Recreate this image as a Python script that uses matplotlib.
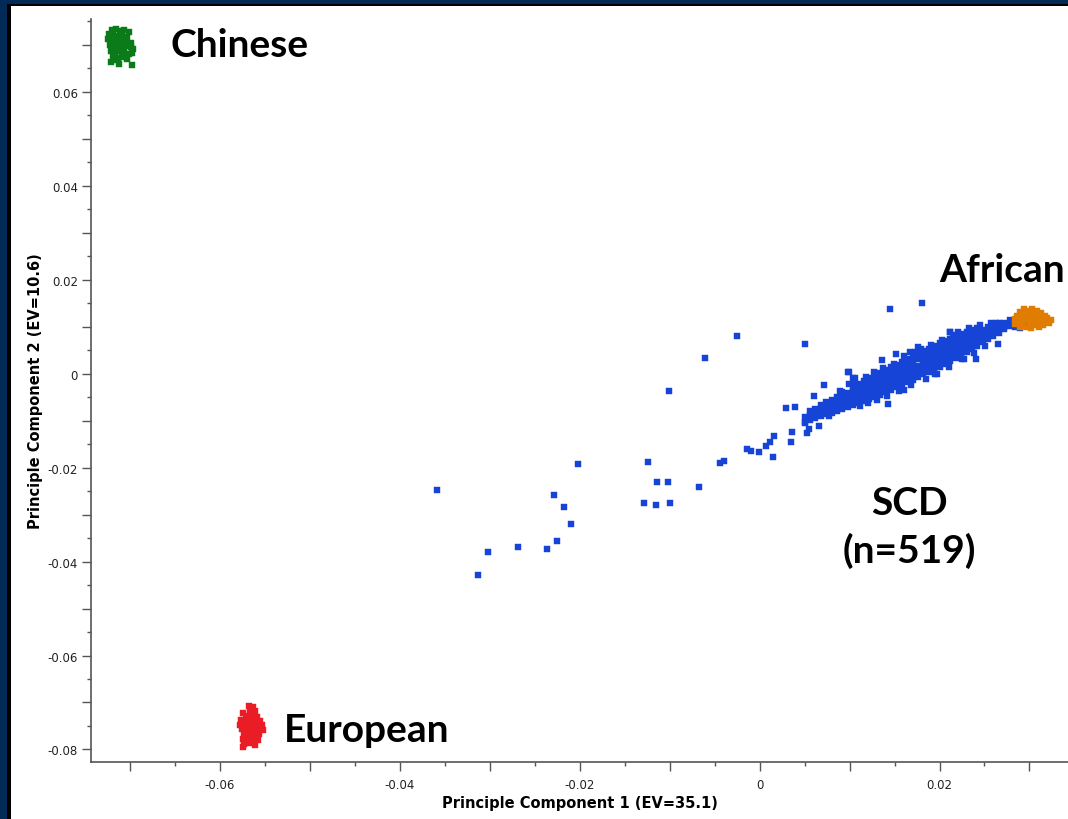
import matplotlib
matplotlib.use("Agg")
import matplotlib.pyplot as plt
from matplotlib.patches import Rectangle
from matplotlib.ticker import MultipleLocator, FuncFormatter

# ---------------- data ----------------
# SCD cohort: dense band, hand-read as columns of (PC1, [PC2 values])
scd_band_columns = [
    (0.0050, [-0.0104, -0.0093]),
    (0.0056, [-0.0098, -0.0088, -0.0080]),
    (0.0062, [-0.0094, -0.0085, -0.0076]),
    (0.0068, [-0.0090, -0.0082, -0.0073, -0.0066]),
    (0.0074, [-0.0086, -0.0077, -0.0069, -0.0061]),
    (0.0080, [-0.0083, -0.0073, -0.0064, -0.0056]),
    (0.0086, [-0.0079, -0.0069, -0.0060, -0.0051]),
    (0.0092, [-0.0075, -0.0064, -0.0055, -0.0046, -0.0040]),
    (0.0098, [-0.0071, -0.0060, -0.0051, -0.0042]),
    (0.0104, [-0.0068, -0.0056, -0.0046, -0.0037, -0.0028]),
    (0.0110, [-0.0063, -0.0052, -0.0042, -0.0031, -0.0022]),
    (0.0116, [-0.0058, -0.0047, -0.0036, -0.0026, -0.0016]),
    (0.0122, [-0.0054, -0.0042, -0.0031, -0.0020, -0.0010]),
    (0.0128, [-0.0050, -0.0038, -0.0026, -0.0015, -0.0004]),
    (0.0134, [-0.0045, -0.0033, -0.0021, -0.0010, 0.0002]),
    (0.0140, [-0.0040, -0.0028, -0.0015, -0.0004, 0.0008]),
    (0.0146, [-0.0035, -0.0022, -0.0010, 0.0002, 0.0014]),
    (0.0152, [-0.0029, -0.0016, -0.0004, 0.0008, 0.0019]),
    (0.0158, [-0.0024, -0.0011, 0.0001, 0.0013, 0.0025]),
    (0.0164, [-0.0019, -0.0006, 0.0006, 0.0018, 0.0031]),
    (0.0170, [-0.0013, 0.0000, 0.0012, 0.0024, 0.0036]),
    (0.0176, [-0.0008, 0.0005, 0.0017, 0.0030, 0.0042]),
    (0.0182, [-0.0002, 0.0011, 0.0023, 0.0035, 0.0048]),
    (0.0188, [0.0003, 0.0016, 0.0028, 0.0041, 0.0053]),
    (0.0194, [0.0009, 0.0021, 0.0034, 0.0046, 0.0058]),
    (0.0200, [0.0014, 0.0027, 0.0040, 0.0052, 0.0064]),
    (0.0206, [0.0020, 0.0032, 0.0045, 0.0057, 0.0069]),
    (0.0212, [0.0026, 0.0038, 0.0050, 0.0062, 0.0074]),
    (0.0218, [0.0032, 0.0044, 0.0056, 0.0068, 0.0080]),
    (0.0224, [0.0038, 0.0050, 0.0061, 0.0073, 0.0084]),
    (0.0230, [0.0045, 0.0056, 0.0067, 0.0078, 0.0089]),
    (0.0236, [0.0052, 0.0062, 0.0072, 0.0083, 0.0093]),
    (0.0242, [0.0059, 0.0069, 0.0078, 0.0088, 0.0097]),
    (0.0248, [0.0066, 0.0076, 0.0084, 0.0093]),
    (0.0254, [0.0073, 0.0082, 0.0090, 0.0099]),
    (0.0260, [0.0080, 0.0088, 0.0096, 0.0104]),
    (0.0266, [0.0087, 0.0094, 0.0101, 0.0108]),
    (0.0272, [0.0094, 0.0100, 0.0107]),
    (0.0278, [0.0101, 0.0107, 0.0113]),
    (0.0284, [0.0100, 0.0106, 0.0112]),
    (0.0290, [0.0098, 0.0106]),
]

# SCD cohort: ragged edge points of the band
scd_edge_pc1 = [0.0105, 0.0118, 0.0127, 0.0149, 0.0161, 0.0173, 0.0190, 0.0203,
                0.0221, 0.0233, 0.0245, 0.0257, 0.0112, 0.0131, 0.0142, 0.0155,
                0.0168, 0.0185, 0.0197, 0.0210, 0.0227, 0.0238, 0.0251, 0.0089,
                0.0077, 0.0137, 0.0179, 0.0215]
scd_edge_pc2 = [-0.0022, -0.0008, 0.0003, 0.0021, 0.0037, 0.0045, 0.0060, 0.0072,
                0.0088, 0.0096, 0.0104, 0.0108, -0.0070, -0.0056, -0.0047, -0.0037,
                -0.0024, -0.0011, 0.0000, 0.0014, 0.0030, 0.0044, 0.0058, -0.0037,
                -0.0090, 0.0012, 0.0053, 0.0082]

# SCD cohort: scattered individual points
scd_out_pc1 = [-0.0358, -0.0313, -0.0302, -0.0269, -0.0236, -0.0225, -0.0228,
               -0.0217, -0.0209, -0.0202, -0.0124, -0.0114, -0.0102, -0.0128,
               -0.0115, -0.0099, -0.0067, -0.0025, -0.0061, -0.0101, -0.0044,
               -0.0039, 0.0050, 0.0145, 0.0180, 0.0263, 0.0265, 0.0240, 0.0212,
               0.0136, 0.0152, 0.0099, 0.0106, 0.0099, 0.0106, 0.0072, 0.0060,
               0.0029, 0.0039, 0.0143, 0.0016, 0.0012, 0.0007, 0.0015, 0.0036,
               0.0035, -0.0014, -0.0009, -0.0001, 0.0050, 0.0055, 0.0066,
               0.0053, 0.0098, 0.0104, 0.0176, 0.0167, 0.0212, 0.0217, 0.0271,
               0.0280, 0.0289, 0.0295, 0.0120, 0.0160, 0.0195, 0.0225]
scd_out_pc2 = [-0.0248, -0.0428, -0.0380, -0.0369, -0.0373, -0.0357, -0.0259,
               -0.0285, -0.0320, -0.0193, -0.0188, -0.0230, -0.0230, -0.0276,
               -0.0280, -0.0276, -0.0242, 0.0079, 0.0032, -0.0038, -0.0190,
               -0.0186, 0.0063, 0.0138, 0.0149, 0.0107, 0.0063, 0.0031, 0.0088,
               0.0029, 0.0042, 0.0003, -0.0010, -0.0022, -0.0032, -0.0025,
               -0.0047, -0.0073, -0.0071, -0.0064, -0.0134, -0.0146, -0.0154,
               -0.0177, -0.0125, -0.0145, -0.0161, -0.0164, -0.0166, -0.0105,
               -0.0118, -0.0111, -0.0126, 0.0003, -0.0010, 0.0056, 0.0046,
               0.0088, 0.0069, 0.0103, 0.0105, 0.0096, 0.0109, -0.0062, -0.0035,
               -0.0002, 0.0030]

# Chinese reference panel
chinese_pc1 = [-0.0720, -0.0715, -0.0711, -0.0706, -0.0701, -0.0723, -0.0718,
               -0.0713, -0.0708, -0.0703, -0.0724, -0.0719, -0.0714, -0.0709,
               -0.0704, -0.0699, -0.0722, -0.0717, -0.0712, -0.0707, -0.0702,
               -0.0698, -0.0696, -0.0721, -0.0716, -0.0711, -0.0706, -0.0701,
               -0.0697, -0.0719, -0.0713, -0.0708, -0.0703, -0.0721, -0.0712,
               -0.0697, -0.0715, -0.0716, -0.0710, -0.0705, -0.0716, -0.0710,
               -0.0704, -0.0716, -0.0710, -0.0706]
chinese_pc2 = [0.0730, 0.0733, 0.0728, 0.0731, 0.0727, 0.0722, 0.0720, 0.0718,
               0.0721, 0.0716, 0.0711, 0.0708, 0.0710, 0.0705, 0.0708, 0.0703,
               0.0698, 0.0696, 0.0699, 0.0694, 0.0697, 0.0695, 0.0690, 0.0687,
               0.0684, 0.0686, 0.0682, 0.0680, 0.0683, 0.0675, 0.0672, 0.0674,
               0.0670, 0.0662, 0.0659, 0.0656, 0.0668, 0.0714, 0.0713, 0.0714,
               0.0702, 0.0702, 0.0701, 0.0690, 0.0691, 0.0689]

# European reference panel
european_pc1 = [-0.0567, -0.0563, -0.0574, -0.0566, -0.0561, -0.0570, -0.0564,
                -0.0558, -0.0576, -0.0571, -0.0566, -0.0560, -0.0555, -0.0577,
                -0.0572, -0.0566, -0.0561, -0.0553, -0.0575, -0.0570, -0.0564,
                -0.0558, -0.0552, -0.0573, -0.0567, -0.0561, -0.0556, -0.0574,
                -0.0568, -0.0562, -0.0557, -0.0573, -0.0567, -0.0561, -0.0574,
                -0.0569, -0.0563, -0.0558, -0.0569, -0.0564, -0.0559, -0.0570,
                -0.0565, -0.0559]
european_pc2 = [-0.0707, -0.0709, -0.0722, -0.0717, -0.0719, -0.0728, -0.0726,
                -0.0731, -0.0737, -0.0735, -0.0738, -0.0736, -0.0740, -0.0747,
                -0.0745, -0.0748, -0.0746, -0.0748, -0.0757, -0.0755, -0.0758,
                -0.0756, -0.0758, -0.0767, -0.0765, -0.0768, -0.0766, -0.0777,
                -0.0775, -0.0778, -0.0780, -0.0789, -0.0787, -0.0790, -0.0795,
                -0.0741, -0.0742, -0.0744, -0.0761, -0.0762, -0.0761, -0.0771,
                -0.0772, -0.0771]

# African reference panel
african_pc1 = [0.0284, 0.0284, 0.0286, 0.0288, 0.0289, 0.0290, 0.0291, 0.0292,
               0.0294, 0.0295, 0.0296, 0.0297, 0.0299, 0.0300, 0.0301, 0.0302,
               0.0303, 0.0304, 0.0305, 0.0306, 0.0308, 0.0309, 0.0310, 0.0311,
               0.0313, 0.0314, 0.0315, 0.0317, 0.0318, 0.0320, 0.0322, 0.0324,
               0.0298, 0.0307, 0.0293, 0.0312]
african_pc2 = [0.0115, 0.0105, 0.0122, 0.0110, 0.0099, 0.0130, 0.0118, 0.0106,
               0.0137, 0.0125, 0.0113, 0.0100, 0.0132, 0.0120, 0.0108, 0.0097,
               0.0138, 0.0127, 0.0115, 0.0103, 0.0133, 0.0121, 0.0109, 0.0098,
               0.0128, 0.0116, 0.0104, 0.0122, 0.0112, 0.0118, 0.0108, 0.0114,
               0.0126, 0.0124, 0.0102, 0.0113]

x_label = "Principle Component 1 (EV=35.1)"
y_label = "Principle Component 2 (EV=10.6)"
group_labels = {"Chinese": (-0.0655, 0.0700),
                "European": (-0.0529, -0.0757),
                "African": (0.0200, 0.0221)}
scd_label = ("SCD\n(n=519)", (0.0167, -0.0325))

# ---------------- build SCD series ----------------
scd_pc1 = []
scd_pc2 = []
for xv, ys in scd_band_columns:
    for yv in ys:
        scd_pc1.append(xv)
        scd_pc2.append(yv)
scd_pc1 += scd_edge_pc1 + scd_out_pc1
scd_pc2 += scd_edge_pc2 + scd_out_pc2

# ---------------- figure ----------------
W, H = 1068, 820
fig = plt.figure(figsize=(W / 100, H / 100), dpi=100, facecolor="#022a57")
fig.patches.append(Rectangle((7 / W, 0), 1, (H - 5) / H, transform=fig.transFigure,
                             facecolor="black", edgecolor="none", zorder=-20))
fig.patches.append(Rectangle((11 / W, 0), 1, (H - 7) / H, transform=fig.transFigure,
                             facecolor="white", edgecolor="none", zorder=-10))

ax = fig.add_axes([91 / W, (H - 763) / H, 1 - 91 / W, (763 - 20) / H])
ax.set_zorder(1)
ax.set_facecolor("none")

ms = 22
series = [
    (scd_pc1, scd_pc2, "#1544d6", 3),
    (african_pc1, african_pc2, "#e07c00", 4),
    (chinese_pc1, chinese_pc2, "#0b7a18", 4),
    (european_pc1, european_pc2, "#ea1d26", 4),
]
for xs, ys, col, z in series:
    ax.scatter(xs, ys, marker="s", s=ms, color=col, edgecolors=col,
               linewidths=0.3, zorder=z)

ax.set_xlim(-0.0743, 0.03428)
ax.set_ylim(-0.08266, 0.07543)

for s in ["top", "right"]:
    ax.spines[s].set_visible(False)
for s in ["left", "bottom"]:
    ax.spines[s].set_color("#555555")
    ax.spines[s].set_linewidth(1.2)


def fmt(v, pos):
    q = v / 0.02
    if abs(q - round(q)) < 1e-6:
        if abs(v) < 1e-9:
            return "0"
        return f"{v:.2f}"
    return ""


for axis in (ax.xaxis, ax.yaxis):
    axis.set_major_locator(MultipleLocator(0.01))
    axis.set_minor_locator(MultipleLocator(0.005))
    axis.set_major_formatter(FuncFormatter(fmt))

ax.tick_params(which="major", length=6.5, width=1.0, color="#555555",
               labelsize=8.5, labelcolor="#222222")
ax.tick_params(which="minor", length=3.2, width=1.0, color="#555555")
ax.tick_params(axis="x", which="major", pad=5)
ax.tick_params(axis="y", which="major", pad=3)

ax.set_xlabel(x_label, fontsize=10.5, fontweight="bold", labelpad=3)
ax.set_ylabel(y_label, fontsize=10.5, fontweight="bold", labelpad=3)

big_font = dict(family=["Lato", "DejaVu Sans"], fontweight="bold", fontsize=28,
                color="black")
for name, (tx, ty) in group_labels.items():
    ax.text(tx, ty, name, ha="left", va="center", zorder=5, **big_font)
ax.text(scd_label[1][0], scd_label[1][1], scd_label[0], ha="center", va="center",
        linespacing=1.4, zorder=5, **big_font)

fig.savefig("out.png", dpi=100, facecolor=fig.get_facecolor())
